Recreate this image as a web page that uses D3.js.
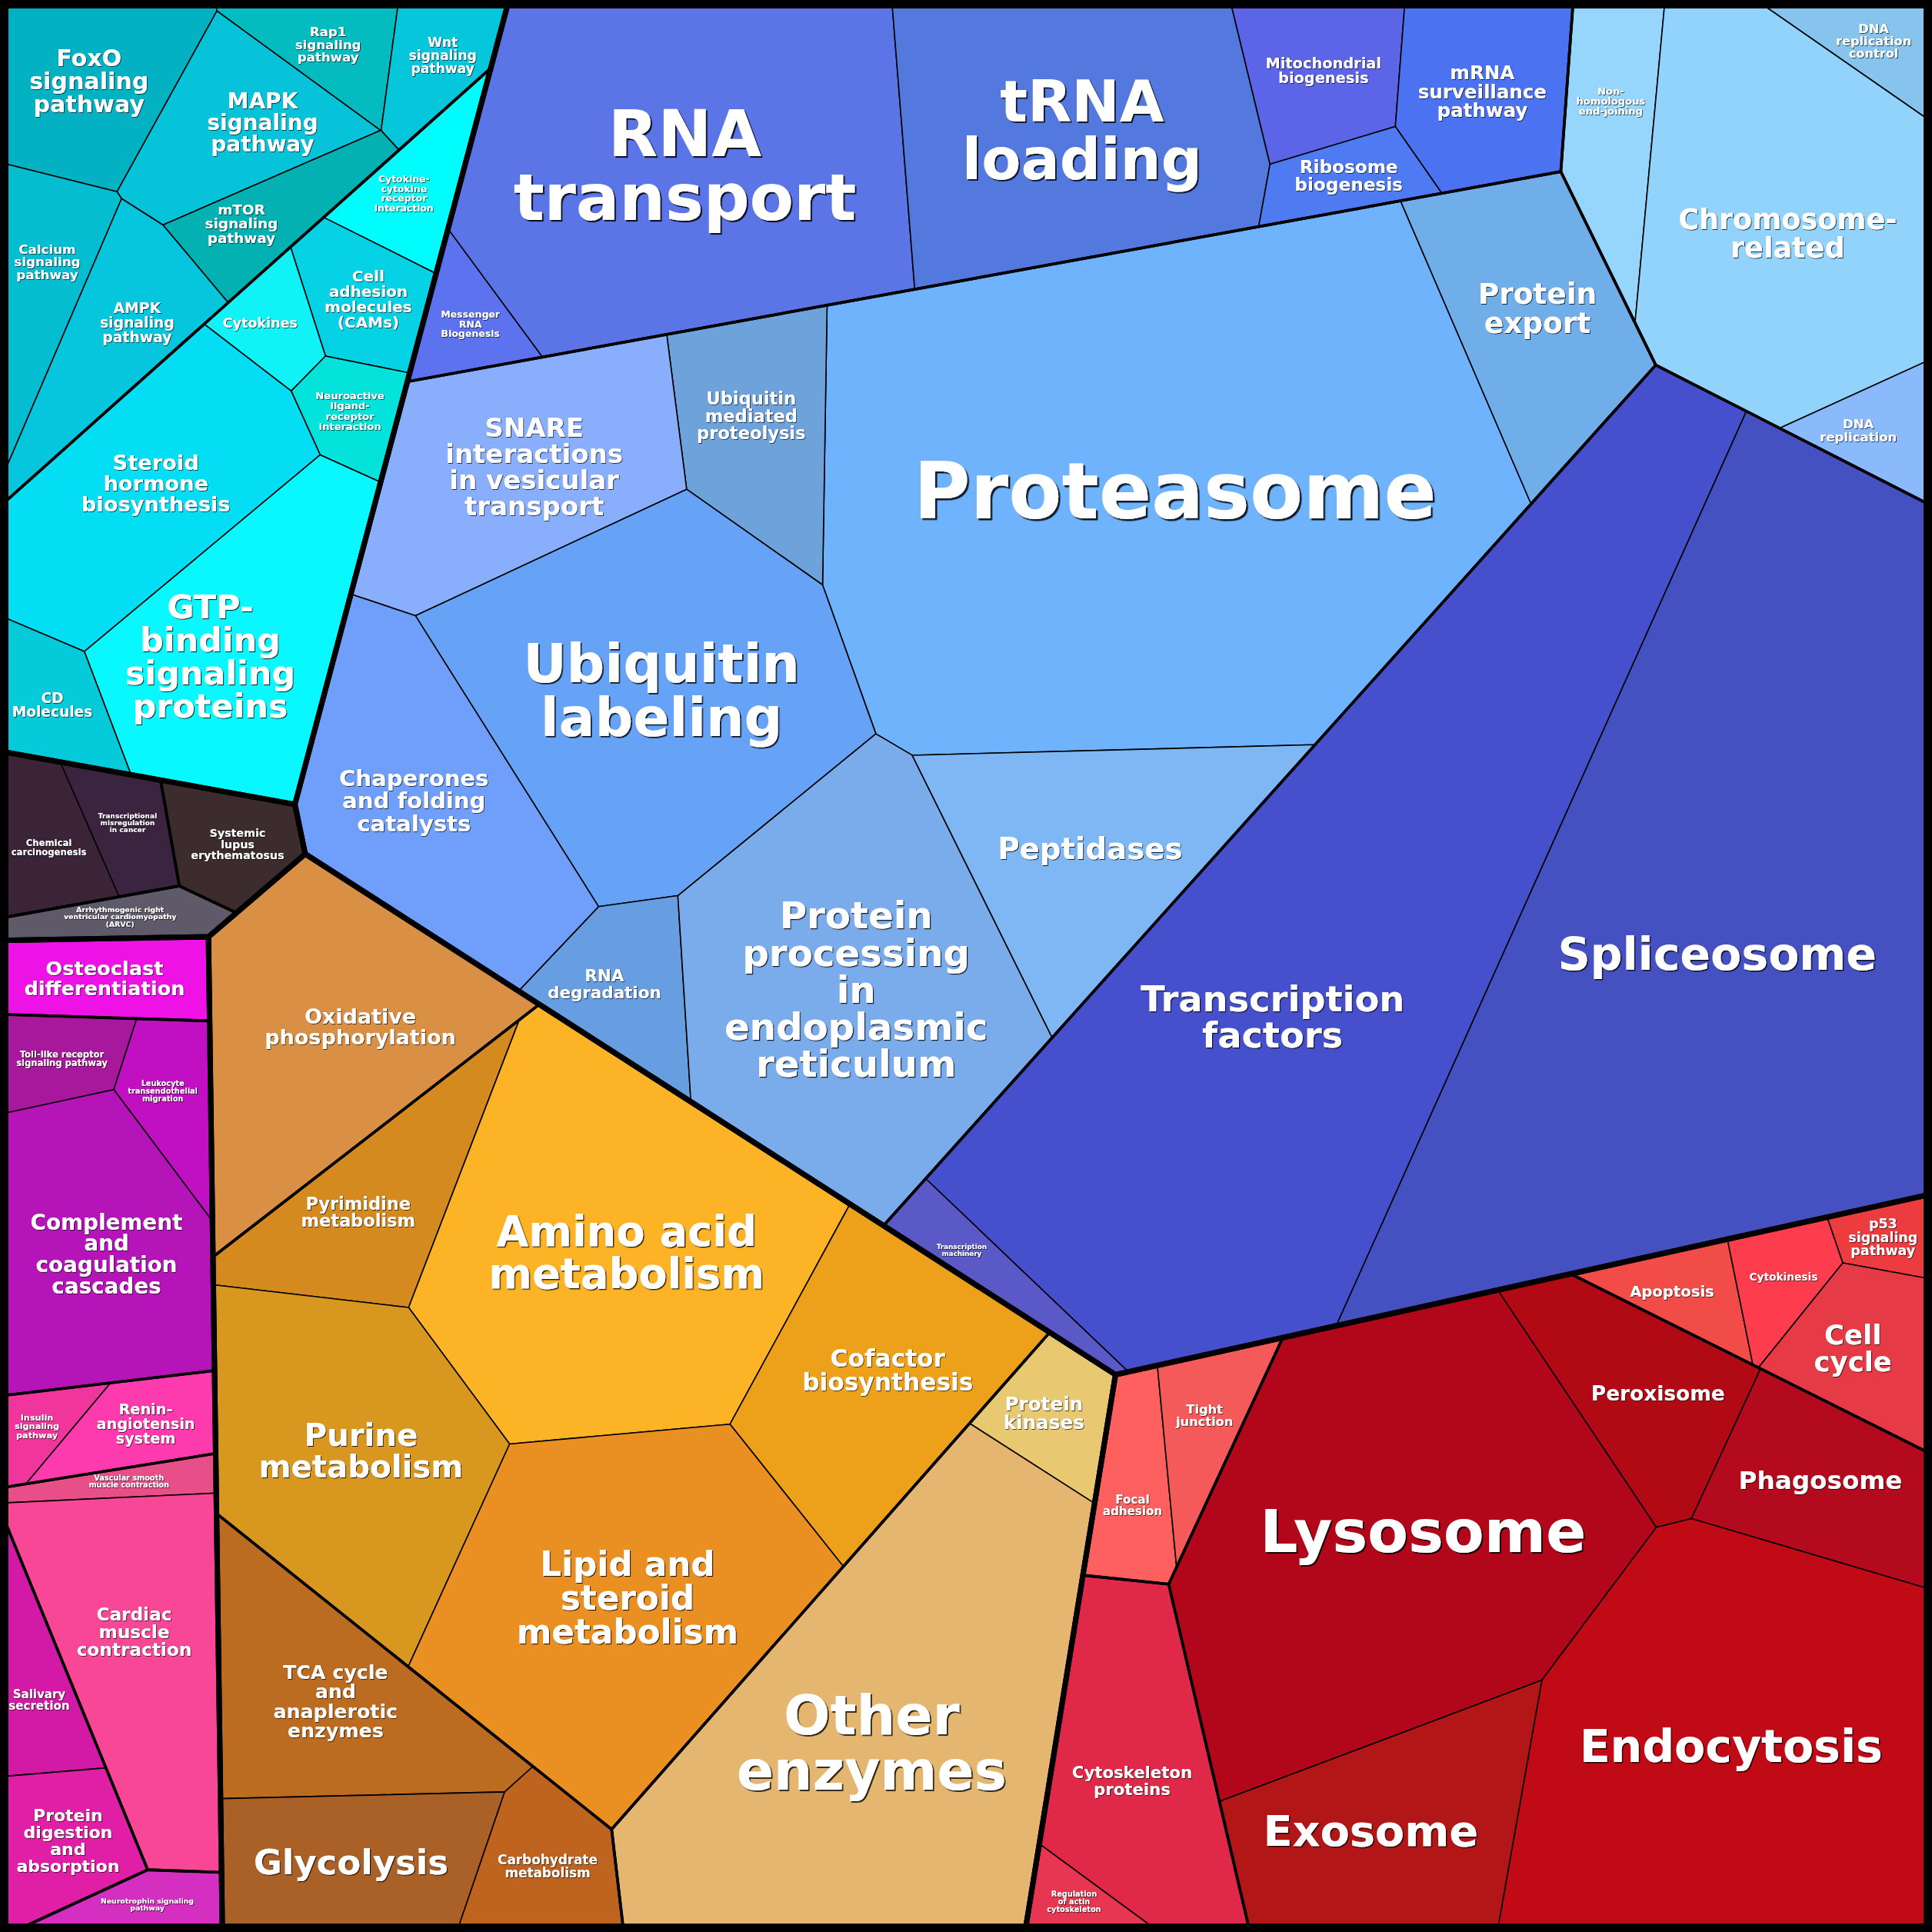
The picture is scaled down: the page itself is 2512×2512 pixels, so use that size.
<!DOCTYPE html>
<html><head><meta charset="utf-8">
<script src="https://cdn.jsdelivr.net/npm/d3@7/dist/d3.min.js"></script>
<style>
html,body{margin:0;padding:0;background:#000;}
svg{display:block}
text{font-family:"DejaVu Sans",sans-serif;font-weight:bold}
</style></head><body>
<script>
// ================= DATA =================
const groupNames = ["Environmental Information Processing","Human Diseases","Organismal Systems","Metabolism","Cellular Processes","Genetic Information Processing"];
const subgroupNames = ["Signal transduction","Signaling molecules and interaction","Cancers","Immune diseases","Cardiovascular diseases",
 "Development","Immune system","Endocrine system","Circulatory system","Digestive system","Nervous system",
 "Energy metabolism","Core metabolism","Carbohydrate metabolism","Other enzymes",
 "Cellular community","Cell motility","Transport and catabolism","Cell growth and death",
 "Translation","Folding, sorting and degradation","Replication and repair","Transcription"];
const subgroupGroup = [0,0,1,1,1,2,2,2,2,2,2,3,3,3,3,4,4,4,4,5,5,5,5];

const categories = [
 "FoxO\nsignaling\npathway","MAPK\nsignaling\npathway","Rap1\nsignaling\npathway","Wnt\nsignaling\npathway","mTOR\nsignaling\npathway","Calcium\nsignaling\npathway","AMPK\nsignaling\npathway",
 "Cytokine-\ncytokine\nreceptor\ninteraction","Cell\nadhesion\nmolecules\n(CAMs)","Cytokines","Neuroactive\nligand-\nreceptor\ninteraction","Steroid\nhormone\nbiosynthesis","GTP-\nbinding\nsignaling\nproteins","CD\nMolecules",
 "Chemical\ncarcinogenesis","Transcriptional\nmisregulation\nin cancer","Systemic\nlupus\nerythematosus","Arrhythmogenic right\nventricular cardiomyopathy\n(ARVC)",
 "Osteoclast\ndifferentiation","Toll-like receptor\nsignaling pathway","Leukocyte\ntransendothelial\nmigration","Complement\nand\ncoagulation\ncascades",
 "Insulin\nsignaling\npathway","Renin-\nangiotensin\nsystem","Vascular smooth\nmuscle contraction","Cardiac\nmuscle\ncontraction",
 "Salivary\nsecretion","Protein\ndigestion\nand\nabsorption","Neurotrophin signaling\npathway",
 "Oxidative\nphosphorylation","Pyrimidine\nmetabolism","Amino acid\nmetabolism","Cofactor\nbiosynthesis","Purine\nmetabolism","Lipid and\nsteroid\nmetabolism",
 "TCA cycle\nand\nanaplerotic\nenzymes","Glycolysis","Carbohydrate\nmetabolism","Other\nenzymes","Protein\nkinases",
 "Focal\nadhesion","Tight\njunction","Cytoskeleton\nproteins","Regulation\nof actin\ncytoskeleton",
 "Lysosome","Peroxisome","Phagosome","Endocytosis","Exosome",
 "Apoptosis","Cytokinesis","p53\nsignaling\npathway","Cell\ncycle",
 "RNA\ntransport","Messenger\nRNA\nBiogenesis","tRNA\nloading","Mitochondrial\nbiogenesis","mRNA\nsurveillance\npathway","Ribosome\nbiogenesis",
 "Proteasome","Protein\nexport","Ubiquitin\nmediated\nproteolysis","SNARE\ninteractions\nin vesicular\ntransport","Ubiquitin\nlabeling","Chaperones\nand folding\ncatalysts","RNA\ndegradation","Protein\nprocessing\nin\nendoplasmic\nreticulum","Peptidases",
 "Non-\nhomologous\nend-joining","DNA\nreplication\ncontrol","Chromosome-\nrelated","DNA\nreplication",
 "Spliceosome","Transcription\nfactors","Transcription\nmachinery"];
const categorySubgroup = [0,0,0,0,0,0,0, 1,1,1,1,1,1,1, 2,2,3,4, 5,6,6,6, 7,7,8,8, 9,9,10,
 11,12,12,12,12,12, 13,13,13,14,14, 15,15,16,16, 17,17,17,17,17, 18,18,18,18,
 19,19,19,19,19,19, 20,20,20,20,20,20,20,20,20, 21,21,21,21, 22,22,22];
const values = [19.8,17.1,8.2,7.7,9.4,12.7,16.0, 8.4,9.3,5.6,6.1,35.8,37.9,8.5,
 8.8,6.1,8.2,5.4, 10.6,6.8,7.9,35.1, 4.0,8.1,3.8,35.2, 9.1,11.2,5.6,
 44.8,21.6,77.4,37.0,48.1,67.9, 30.9,22.7,12.1,97.9,8.7,
 9.2,8.3,31.3,3.8, 101.6,20.7,20.6,95.3,34.7, 6.6,6.3,4.1,13.2,
 88.4,6.3,58.4,14.2,19.0,6.8, 196.5,28.8,20.5,38.7,73.3,40.9,12.8,73.3,37.0,
 14.2,6.9,64.6,7.2, 198.6,190.2,6.5];

// ================= LAYOUT SEEDS (reference grid 0..1568) =================
const groupSeeds = [[158,291],[86,690],[95,1207],[524,1201],[1146,1302],[970,507]];
const subgroupSeeds = [[60,170],[260,394],[60,665],[139,651],[80,776],
 [92,790],[86,980],[106,1149],[133,1317],[50,1351],[126,1516],
 [279,879],[450,1100],[219,1389],[712,1331],
 [967,1132],[940,1391],[1330,1300],[1446,1068],
 [760,120],[821,455],[1408,167],[1123,726]];
const cellSeeds = [[82,72],[196,135],[261,46],[350,58],[216,181],[40,240],[110,270],
 [343,159],[300,245],[222,270],[283,330],[118,405],[203,507],[50,565],
 [45,680],[109,652],[192,682],[95,745],
 [92,790],[58,855],[148,884],[76,938],[30,1135],[92,1187],[125,1200],[131,1330],[40,1358],[50,1478],[135,1540],
 [258,830],[290,925],[485,1000],[707,1121],[262,1165],[510,1278],[272,1368],[275,1495],[436,1550],[698,1390],[858,1140],
 [912,1190],[975,1184],[955,1425],[874,1535],
 [1120,1240],[1304,1117],[1458,1188],[1384,1438],[1181,1402],
 [1361,1046],[1440,1030],[1522,1002],[1507,1084],
 [565,135],[383,269],[880,110],[1065,65],[1195,75],[1090,148],
 [915,405],[1240,265],[605,400],[434,422],[496,555],[361,640],[530,800],[688,790],[922,674],
 [1300,172],[1535,48],[1440,185],[1517,354],
 [1361,875],[1060,740],[797,1016]];

// ================= STYLE =================
const palette = ["#03b2c2","#07c3d9","#04bbbf","#05c6da","#03b0b2","#05bdd0","#06c6de",
 "#00fdfd","#06d2e6","#0ff3f7","#03e3dc","#04def5","#08f8ff","#05cad9",
 "#3b2438","#3b2440","#3c2c2d","#5e5a6a",
 "#ef12e6","#a8189c","#c010c2","#b414b8","#f0359c","#fe3bae","#e84f88","#f84797","#d31aa6","#e01fa6","#d42fc0",
 "#da9044","#d48a1f","#fcb426","#eda11a","#d89820","#ea9022","#bc6c20","#aa6128","#be641e","#e4b670","#e8c870",
 "#fe6060","#f45a5a","#e02848","#e63652",
 "#b2061a","#b20a15","#b30a1e","#c00a16","#b21616",
 "#f24c48","#fd3c4e","#ed3c40","#e73a47",
 "#5b74e6","#5c72ee","#5479de","#5c64e8","#4a72f1","#4f7bf2",
 "#6fb3fd","#70aeea","#6ea2da","#88aefc","#66a2f6","#709efb","#679ee1","#7aabeb","#7fb7f5",
 "#96d6fc","#86c4ee","#92d3fc","#8abafc",
 "#4551c0","#4650cc","#5b58c7"];

// ================= POWER-DIAGRAM (weighted Voronoi) TREEMAP =================
const W = 2512;
const S = d3.scaleLinear().domain([0,1568]).range([0,W]);

function clipHalf(poly, ax, ay, b, tag){
  const out=[]; const n=poly.length;
  for(let k=0;k<n;k++){
    const P=poly[k], Q=poly[(k+1)%n];
    const dp=ax*P[0]+ay*P[1]-b, dq=ax*Q[0]+ay*Q[1]-b;
    const pin=dp<=0, qin=dq<=0;
    if(pin) out.push(P);
    if(pin!==qin){
      const t=dp/(dp-dq);
      const I=[P[0]+t*(Q[0]-P[0]), P[1]+t*(Q[1]-P[1])];
      I.tag = pin ? tag : P.tag;
      out.push(I);
    }
  }
  return out;
}
function powerCell(i, sites, w, clip){
  let poly = clip.map(p=>{const q=[p[0],p[1]]; q.tag=-1; return q;});
  const si=sites[i], si2=si[0]*si[0]+si[1]*si[1];
  for(let j=0;j<sites.length;j++){
    if(j===i) continue;
    const sj=sites[j];
    const ax=2*(sj[0]-si[0]), ay=2*(sj[1]-si[1]);
    const b=sj[0]*sj[0]+sj[1]*sj[1]-si2-w[j]+w[i];
    poly=clipHalf(poly,ax,ay,b,j);
    if(poly.length<3) return [];
  }
  return poly;
}
const dist=(a,b)=>Math.hypot(a[0]-b[0],a[1]-b[1]);
const areaOf=c=>c.length>=3?Math.abs(d3.polygonArea(c)):0;
function solve(sites, targets, clip){
  const n=sites.length;
  if(n===1) return [clip.map(p=>[p[0],p[1]])];
  const w=new Array(n).fill(0);
  for(let it=0; it<900; it++){
    for(let i=0;i<n;i++){            // Gauss-Seidel sweep
      const c=powerCell(i,sites,w,clip);
      const A=areaOf(c);
      let D=0;
      for(let k=0;k<c.length;k++){
        const P=c[k], Q=c[(k+1)%c.length];
        if(P.tag>=0) D+=dist(P,Q)/(2*dist(sites[i],sites[P.tag]));
      }
      if(A<=0||D<1e-9){
        let m=-Infinity;
        for(let j=0;j<n;j++) if(j!==i){const d=dist(sites[i],sites[j]); m=Math.max(m,w[j]-d*d);}
        w[i]=Math.max(w[i],m)+0.1*targets[i];
      } else w[i]+=0.6*(targets[i]-A)/D;
    }
  }
  return sites.map((s,i)=>powerCell(i,sites,w,clip));
}

const clip0=[[0,0],[W,0],[W,W],[0,W]];
const total=d3.sum(values);
const nSub=subgroupNames.length;
const subVal=d3.range(nSub).map(s=>d3.sum(values.filter((v,k)=>categorySubgroup[k]===s)));
const groupVal=groupNames.map((g,gi)=>d3.sum(subVal.filter((v,s)=>subgroupGroup[s]===gi)));
const groupPolys=solve(groupSeeds.map(p=>[S(p[0]),S(p[1])]), groupVal.map(v=>v/total*W*W), clip0);

const subPolys=new Array(nSub);
groupNames.forEach((g,gi)=>{
  const subs=d3.range(nSub).filter(s=>subgroupGroup[s]===gi);
  const vals=subs.map(s=>subVal[s]); const sv=d3.sum(vals);
  const area=areaOf(groupPolys[gi]);
  const res=solve(subs.map(s=>[S(subgroupSeeds[s][0]),S(subgroupSeeds[s][1])]), vals.map(v=>v/sv*area), groupPolys[gi]);
  subs.forEach((s,k)=>subPolys[s]=res[k]);
});
const cellPolys=new Array(categories.length);
d3.range(nSub).forEach(si=>{
  const cs=d3.range(categories.length).filter(k=>categorySubgroup[k]===si);
  const vals=cs.map(k=>values[k]); const sv=d3.sum(vals);
  const area=areaOf(subPolys[si]);
  const res=solve(cs.map(k=>[S(cellSeeds[k][0]),S(cellSeeds[k][1])]), vals.map(v=>v/sv*area), subPolys[si]);
  cs.forEach((k,j)=>cellPolys[k]=res[j]);
});

// ================= DRAW =================
const color=d3.scaleOrdinal(categories, palette);
const pathOf=p=>p&&p.length>2?"M"+p.map(q=>q[0].toFixed(2)+","+q[1].toFixed(2)).join("L")+"Z":"";
const svg=d3.select("body").append("svg").attr("width",W).attr("height",W);
const defs=svg.append("defs");
svg.append("rect").attr("width",W).attr("height",W).attr("fill","#000");

svg.append("g").selectAll("path").data(categories).join("path")
  .attr("d",(d,i)=>pathOf(cellPolys[i])).attr("fill",d=>color(d))
  .attr("stroke","#000").attr("stroke-width",1.6).attr("stroke-linejoin","round");
svg.append("g").selectAll("path").data(subgroupNames).join("path")
  .attr("d",(d,i)=>pathOf(subPolys[i])).attr("fill","none")
  .attr("stroke","#000").attr("stroke-width",3.6).attr("stroke-linejoin","round");
svg.append("g").selectAll("path").data(groupNames).join("path")
  .attr("d",(d,i)=>pathOf(groupPolys[i])).attr("fill","none")
  .attr("stroke","#000").attr("stroke-width",7).attr("stroke-linejoin","round");
svg.append("rect").attr("x",0).attr("y",0).attr("width",W).attr("height",W)
  .attr("fill","none").attr("stroke","#000").attr("stroke-width",22);

// ----- labels -----
const ctx=document.createElement("canvas").getContext("2d");
ctx.font='bold 100px "DejaVu Sans"';
function chordAt(poly,y){
  const xs=[];
  for(let k=0;k<poly.length;k++){
    const P=poly[k],Q=poly[(k+1)%poly.length];
    if((P[1]<=y&&Q[1]>y)||(Q[1]<=y&&P[1]>y)) xs.push(P[0]+(y-P[1])/(Q[1]-P[1])*(Q[0]-P[0]));
  }
  if(xs.length<2) return null;
  return [d3.min(xs),d3.max(xs)];
}
function avail(poly,y,cx){
  const ch=chordAt(poly,y); if(!ch) return 0;
  if(cx<=ch[0]||cx>=ch[1]) return 0;
  return 2*Math.min(cx-ch[0],ch[1]-cx);
}
function segDist(p,a,b){
  const dx=b[0]-a[0],dy=b[1]-a[1]; const L=dx*dx+dy*dy;
  let t=L?((p[0]-a[0])*dx+(p[1]-a[1])*dy)/L:0; t=Math.max(0,Math.min(1,t));
  return Math.hypot(p[0]-a[0]-t*dx,p[1]-a[1]-t*dy);
}
function inner(poly,p){
  if(!d3.polygonContains(poly,p)) return -1;
  let m=Infinity;
  for(let k=0;k<poly.length;k++) m=Math.min(m,segDist(p,poly[k],poly[(k+1)%poly.length]));
  return m;
}
function pole(poly){
  const [x0,x1]=d3.extent(poly,p=>p[0]), [y0,y1]=d3.extent(poly,p=>p[1]);
  let best=d3.polygonCentroid(poly), bd=inner(poly,best);
  let step=Math.max(x1-x0,y1-y0)/24;
  for(let x=x0;x<=x1;x+=step) for(let y=y0;y<=y1;y+=step){
    const d=inner(poly,[x,y]); if(d>bd){bd=d;best=[x,y];}
  }
  for(let r=0;r<4;r++){
    const c=best.slice(); step/=4;
    for(let i=-4;i<=4;i++) for(let j=-4;j<=4;j++){
      const p=[c[0]+i*step,c[1]+j*step]; const d=inner(poly,p); if(d>bd){bd=d;best=p;}
    }
  }
  return best;
}
const LH=1.0;
const labels=[];
categories.forEach((lab,i)=>{
  const poly=cellPolys[i]; if(!poly||poly.length<3) return;
  const area=areaOf(poly);
  const c=d3.polygonCentroid(poly), pl=pole(poly);
  const cy=0.65*c[1]+0.35*pl[1];
  const ch=chordAt(poly,cy);
  const cx=ch?(ch[0]+ch[1])/2:0.65*c[0]+0.35*pl[0];
  const lines=lab.split("\n");
  const w100=lines.map(l=>ctx.measureText(l).width/100);
  let fs=0.19*Math.sqrt(area);
  const n=lines.length;
  for(;fs>5;fs*=0.97){
    const lh=fs*LH; let ok=true;
    for(let k=0;k<n&&ok;k++){
      const yk=cy+(k-(n-1)/2)*lh;
      for(const y of [yk-0.38*fs, yk+0.38*fs]){
        if(w100[k]*fs>0.78*avail(poly,y,cx)){ok=false;break;}
      }
    }
    if(ok) break;
  }
  labels.push({lines,cx,cy,fs,i});
});
const lg=svg.append("g");
labels.forEach(L=>{
  const off=Math.max(0.8,L.fs*0.025), lh=L.fs*LH, n=L.lines.length;
  defs.append("filter").attr("id","sh"+L.i).attr("x","-10%").attr("y","-10%").attr("width","120%").attr("height","120%")
    .append("feDropShadow").attr("dx",off).attr("dy",off).attr("stdDeviation",Math.max(0.3,off*0.25))
    .attr("flood-color","#000").attr("flood-opacity",0.85);
  const t=lg.append("text").attr("text-anchor","middle").attr("font-size",L.fs.toFixed(2))
    .attr("fill","#fff").attr("filter","url(#sh"+L.i+")");
  L.lines.forEach((ln,k)=>{
    t.append("tspan").attr("x",L.cx).attr("y",L.cy+(k-(n-1)/2)*lh)
      .attr("dominant-baseline","central").text(ln);
  });
});
</script>
</body></html>
